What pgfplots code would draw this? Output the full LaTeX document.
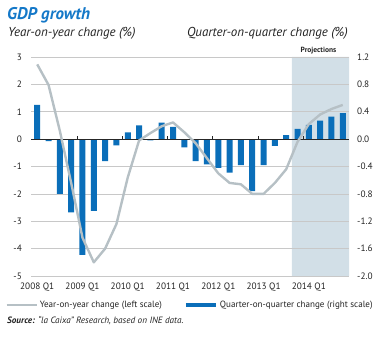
\documentclass[border=0pt]{standalone}
\usepackage{fontspec}
\setmainfont{PT Sans}
\usepackage{pgfplots}
\pgfplotsset{compat=1.18}
\definecolor{barblue}{RGB}{10,110,185}
\definecolor{linegray}{RGB}{182,192,197}
\definecolor{shade}{RGB}{210,223,231}
\definecolor{titleblue}{RGB}{20,120,200}
\definecolor{gridgray}{RGB}{200,200,200}
\definecolor{txt}{RGB}{35,35,35}
\pgfplotsset{common/.style={scale only axis, width=318bp, height=219bp, xmin=-0.55, xmax=27.55,
  tick label style={font=\fontsize{9.3}{10}\selectfont, text=txt}, major tick length=0pt}}
\begin{document}
\begin{tikzpicture}
% projection shading
\begin{axis}[common, ymin=-2, ymax=1.2, hide axis]
\addplot[fill=shade, draw=none] coordinates {(22.5,-2) (22.5,1.2) (27.55,1.2) (27.55,-2) (22.5,-2)};
\end{axis}
% bars, right scale
\begin{axis}[common, ymin=-2, ymax=1.2,
  axis y line*=right, axis x line*=bottom, axis line style={draw=none},
  ytick={-2,-1.6,-1.2,-0.8,-0.4,0,0.4,0.8,1.2},
  yticklabels={-2.0,-1.6,-1.2,-0.8,-0.4,0.0,0.4,0.8,1.2},
  yticklabel style={inner xsep=0pt, xshift=8bp},
  ymajorgrids, grid style={gridgray, line width=0.6bp},
  xtick={0,4,8,12,16,20,24},
  xticklabels={2008 Q1,2009 Q1,2010 Q1,2011 Q1,2012 Q1,2013 Q1,2014 Q1},
  xticklabel style={inner ysep=0pt, yshift=-7bp}]
\addplot[ybar, bar width=0.53, fill=barblue, draw=none] coordinates {
(0,0.5) (1,-0.03) (2,-0.8) (3,-1.07) (4,-1.69) (5,-1.05) (6,-0.32) (7,-0.09)
(8,0.1) (9,0.2) (10,-0.02) (11,0.24) (12,0.18) (13,-0.12) (14,-0.32) (15,-0.37)
(16,-0.42) (17,-0.49) (18,-0.38) (19,-0.76) (20,-0.38) (21,-0.1) (22,0.06)
(23,0.15) (24,0.21) (25,0.27) (26,0.33) (27,0.38)};
\draw[black!85, line width=0.7bp] (axis cs:-0.55,0) -- (axis cs:27.55,0);
\pgfplotsinvokeforeach{3.5,7.5,11.5,15.5,19.5,23.5}{\draw[black!85, line width=0.6bp] (axis cs:#1,0) -- ++(0pt,3bp);}
\end{axis}
% line, left scale
\begin{axis}[common, ymin=-5, ymax=3,
  axis y line*=left, axis x line=none, axis line style={draw=none},
  ytick={-5,-4,-3,-2,-1,0,1,2,3},
  yticklabels={-5,-4,-3,-2,-1,0,1,2,3},
  yticklabel style={inner xsep=0pt, xshift=-9bp},
  legend image code/.code={\draw[#1] (0bp,0bp) -- (30bp,0bp);},
  legend style={draw=none, fill=none, at={(0.5,-0.132)}, anchor=center,
    legend columns=2, font=\fontsize{9.1}{11}\selectfont, text=txt,
    /tikz/every even column/.append style={column sep=20bp}},
  ]
\addplot[linegray, line width=2.4bp, line join=round] coordinates {
(0,2.73) (1,1.98) (2,0.3) (3,-1.6) (4,-3.6) (5,-4.5) (6,-4.0) (7,-3.1)
(8,-1.4) (9,-0.05) (10,0.22) (11,0.47) (12,0.61) (13,0.25) (14,-0.15) (15,-0.7)
(16,-1.25) (17,-1.6) (18,-1.65) (19,-2.0) (20,-2.0) (21,-1.6) (22,-1.1)
(23,-0.1) (24,0.55) (25,0.9) (26,1.1) (27,1.25)};
\addlegendentry{Year-on-year change (left scale)}
\addlegendimage{barblue, line width=4bp}
\addlegendentry{Quarter-on-quarter change (right scale)}
\end{axis}
\node[anchor=base west, inner sep=0pt, font=\fontsize{17}{18}\selectfont\bfseries\itshape, text=titleblue] at (-24bp,256bp) {GDP growth};
\node[anchor=base west, inner sep=0pt, font=\fontsize{13}{14}\selectfont\itshape, text=txt] at (-23bp,239bp) {Year-on-year change (\%)};
\node[anchor=base east, inner sep=0pt, font=\fontsize{13}{14}\selectfont\itshape, text=txt] at (317bp,239bp) {Quarter-on-quarter change (\%)};
\node[anchor=base, inner sep=0pt, font=\fontsize{7.5}{8}\selectfont\bfseries, text=txt] at (287.5bp,223bp) {Projections};
\node[anchor=base west, inner sep=0pt, font=\fontsize{9.2}{11}\selectfont\itshape, text=txt] at (-24bp,-47bp) {\textbf{Source:} “la Caixa” Research, based on INE data.};
\pgfresetboundingbox
\path[use as bounding box] (-31bp,-62bp) rectangle (351bp,276bp);
\end{tikzpicture}
\end{document}
